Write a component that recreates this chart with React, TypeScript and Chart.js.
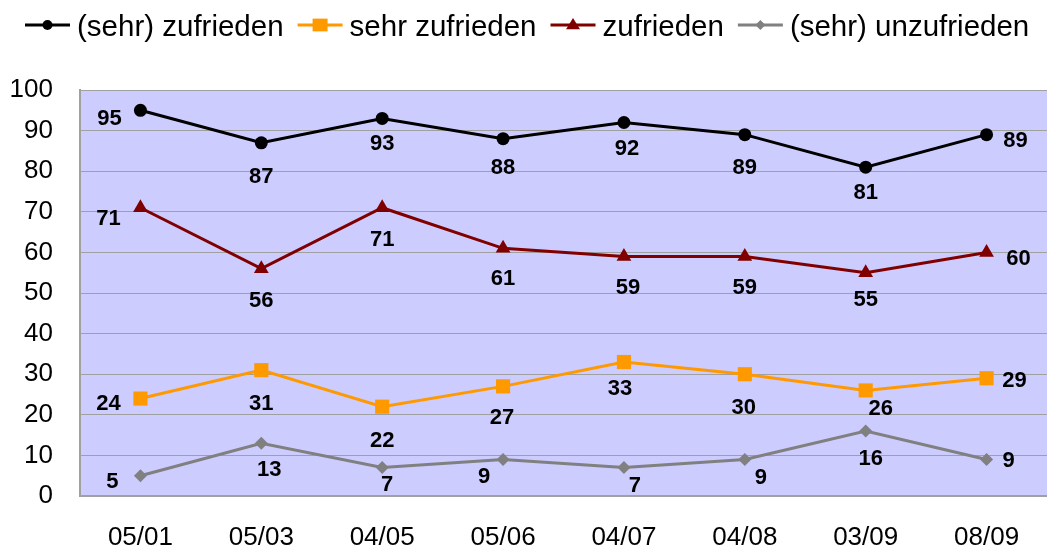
import React, { useEffect, useRef } from 'react';
import { Chart, registerables } from 'chart.js';

Chart.register(...registerables);

// ---- data ----
const categories = ['05/01', '05/03', '04/05', '05/06', '04/07', '04/08', '03/09', '08/09'];
const seriesNames = ['(sehr) zufrieden', 'sehr zufrieden', 'zufrieden', '(sehr) unzufrieden'];
const sehrZufriedenGesamt = [95, 87, 93, 88, 92, 89, 81, 89];
const sehrZufrieden = [24, 31, 22, 27, 33, 30, 26, 29];
const zufrieden = [71, 56, 71, 61, 59, 59, 55, 60];
const unzufrieden = [5, 13, 7, 9, 7, 9, 16, 9];
const yTickValues = [0, 10, 20, 30, 40, 50, 60, 70, 80, 90, 100];

// ---- styles ----
const FONT = '"Liberation Sans", Arial, sans-serif';
const COLORS = ['#000000', '#FF9900', '#800000', '#808080'];
const POINT_STYLES = ['circle', 'rect', 'triangle', 'rectRot'];
const POINT_RADII = [6.5, 10, 8.5, 6.5];
// label offsets (relative to each point), in px
const LABEL_OFFSETS: number[][][] = [
  [[-31, 7], [0, 32], [0, 24], [0, 27], [3, 25], [0, 31], [0, 24], [29, 4]],
  [[-32, 3], [0, 32], [0, 32], [-1, 30], [-4, 25], [-1, 32], [15, 17], [28, 1]],
  [[-32, 9], [0, 30], [0, 30], [0, 29], [4, 30], [0, 30], [0, 25], [32, 5]],
  [[-28, 4], [8, 25], [5, 15], [-19, 16], [11, 16], [16, 17], [5, 26], [22, 0]],
];

function drawMarker(ctx: CanvasRenderingContext2D, style: string, x: number, y: number, r: number, color: string) {
  ctx.save();
  ctx.fillStyle = color;
  ctx.beginPath();
  if (style === 'circle') {
    ctx.arc(x, y, r, 0, Math.PI * 2);
  } else if (style === 'rect') {
    ctx.rect(x - r, y - r * 0.85, 2 * r, 1.7 * r);
  } else if (style === 'triangle') {
    ctx.moveTo(x, y - r);
    ctx.lineTo(x + r, y + r * 0.6);
    ctx.lineTo(x - r, y + r * 0.6);
    ctx.closePath();
  } else {
    ctx.moveTo(x, y - r);
    ctx.lineTo(x + r, y);
    ctx.lineTo(x, y + r);
    ctx.lineTo(x - r, y);
    ctx.closePath();
  }
  ctx.fill();
  ctx.restore();
}

const bgPlugin = {
  id: 'plotBg',
  beforeDraw(chart: any) {
    const { ctx, chartArea } = chart;
    ctx.save();
    ctx.fillStyle = '#CCCCFF';
    ctx.fillRect(chartArea.left, chartArea.top, chartArea.right - chartArea.left, chartArea.bottom - chartArea.top);
    ctx.restore();
  },
};

const labelPlugin = {
  id: 'pointValueLabels',
  afterDatasetsDraw(chart: any) {
    const ctx = chart.ctx;
    ctx.save();
    ctx.font = 'bold 22px ' + FONT;
    ctx.fillStyle = '#000';
    ctx.textAlign = 'center';
    ctx.textBaseline = 'alphabetic';
    chart.data.datasets.forEach((ds: any, i: number) => {
      const meta = chart.getDatasetMeta(i);
      meta.data.forEach((pt: any, j: number) => {
        const [dx, dy] = LABEL_OFFSETS[i][j];
        ctx.fillText(String(ds.data[j]), pt.x + dx, pt.y + dy + 8);
      });
    });
    ctx.restore();
  },
};

const legendMarkerRadii = [5, 7.5, 7, 5];

const legendPlugin = {
  id: 'lineLegend',
  afterDraw(chart: any) {
    const ctx = chart.ctx as CanvasRenderingContext2D;
    ctx.save();
    ctx.font = '29.5px ' + FONT;
    ctx.textBaseline = 'alphabetic';
    ctx.textAlign = 'left';
    let x = 25;
    const lineY = 25;
    chart.data.datasets.forEach((ds: any, i: number) => {
      ctx.strokeStyle = COLORS[i];
      ctx.lineWidth = 3;
      ctx.beginPath();
      ctx.moveTo(x, lineY);
      ctx.lineTo(x + 45, lineY);
      ctx.stroke();
      drawMarker(ctx, POINT_STYLES[i], x + 22.5, lineY, legendMarkerRadii[i], COLORS[i]);
      x += 52;
      ctx.fillStyle = '#000';
      ctx.fillText(ds.label, x, 36);
      x += ctx.measureText(ds.label).width + 14;
    });
    ctx.restore();
  },
};

export default function App() {
  const canvasRef = useRef<HTMLCanvasElement | null>(null);

  useEffect(() => {
    document.body.style.margin = '0';
    const canvas = canvasRef.current;
    if (!canvas) return;
    const values = [sehrZufriedenGesamt, sehrZufrieden, zufrieden, unzufrieden];
    const chart = new Chart(canvas, {
      type: 'line',
      data: {
        labels: categories,
        datasets: values.map((v, i) => ({
          label: seriesNames[i],
          data: v,
          borderColor: COLORS[i],
          backgroundColor: COLORS[i],
          pointBackgroundColor: COLORS[i],
          pointBorderColor: COLORS[i],
          pointStyle: POINT_STYLES[i] as any,
          pointRadius: POINT_RADII[i],
          pointBorderWidth: 0,
          borderWidth: 3,
          tension: 0,
          fill: false,
        })),
      },
      options: {
        animation: false,
        responsive: false,
        maintainAspectRatio: false,
        layout: { autoPadding: false, padding: { top: 90, right: 0, left: 0, bottom: 0 } },
        plugins: {
          legend: { display: false },
          tooltip: { enabled: false },
        },
        scales: {
          x: {
            offset: true,
            grid: { display: false, drawTicks: false },
            border: { display: true, color: '#A0A0A0', width: 2 },
            ticks: {
              color: '#000',
              font: { family: FONT, size: 26 },
              padding: 26,
              maxRotation: 0,
              autoSkip: false,
            },
            afterFit(scale: any) {
              scale.height = 56;
              scale.paddingRight = 0;
              scale.paddingLeft = 0;
            },
          },
          y: {
            min: 0,
            max: 100,
            afterBuildTicks(scale: any) {
              scale.ticks = yTickValues.map((v) => ({ value: v }));
            },
            grid: { color: '#A0A0A0', lineWidth: 1, drawTicks: false },
            border: { display: true, color: '#A0A0A0', width: 2 },
            ticks: {
              color: '#000',
              font: { family: FONT, size: 26 },
              padding: 27,
            },
            afterFit(scale: any) {
              scale.width = 80;
            },
          },
        },
      },
      plugins: [bgPlugin, labelPlugin, legendPlugin],
    });
    return () => chart.destroy();
  }, []);

  return (
    <div style={{ width: 1047, height: 552 }}>
      <canvas ref={canvasRef} width={1047} height={552} />
    </div>
  );
}
